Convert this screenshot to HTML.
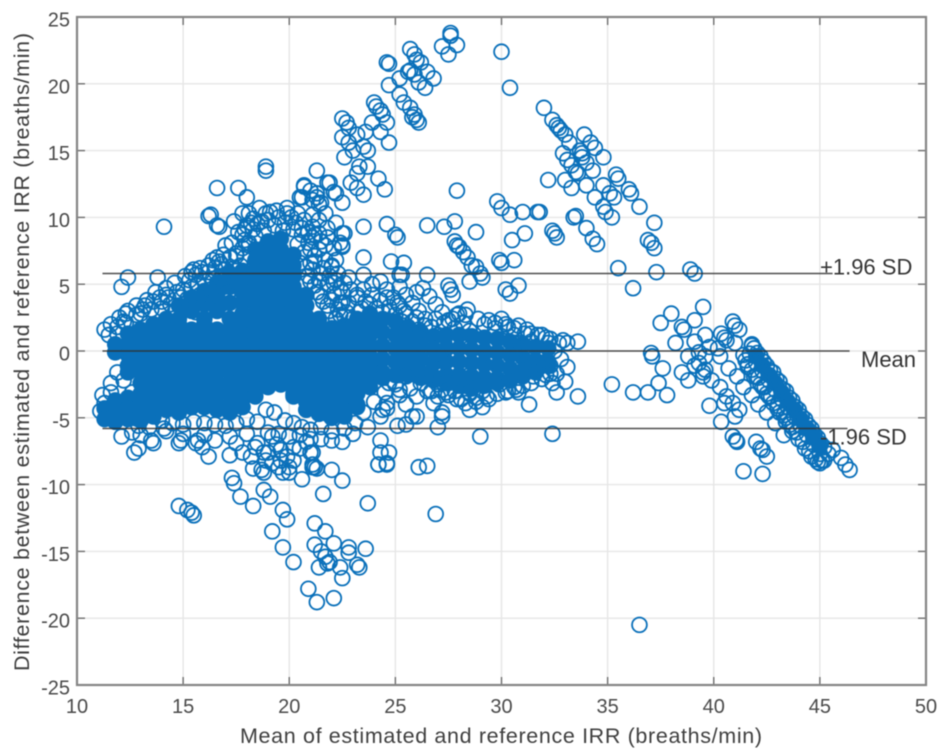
<!DOCTYPE html>
<html lang="en">
<head>
<meta charset="utf-8">
<title>Bland-Altman plot of estimated and reference IRR</title>
<style>
html,body{margin:0;padding:0;background:#fff;width:945px;height:756px;overflow:hidden}
svg{display:block;filter:blur(0.6px);font-family:"Liberation Sans",Arial,sans-serif}
</style>
</head>
<body>
<svg id="chart" xmlns="http://www.w3.org/2000/svg" width="945" height="756" viewBox="0 0 945 756">
<rect x="0" y="0" width="945" height="756" fill="#ffffff"/>
<g id="grid"></g>
<g id="marks"></g>
<g id="axes"></g>
<g id="refs"></g>
<text x="240" y="743" font-size="21.5" fill="#3f3f3f" textLength="522" lengthAdjust="spacing">Mean of estimated and reference IRR (breaths/min)</text>
<text transform="translate(29,671) rotate(-90)" font-size="21.5" fill="#3f3f3f" textLength="638" lengthAdjust="spacing">Difference between estimated and reference IRR (breaths/min)</text>
</svg>
<script>
const xTicks = [10,15,20,25,30,35,40,45,50];
const yTicks = [25,20,15,10,5,0,-5,-10,-15,-20,-25];
const refLabels = ["+1.96 SD","Mean","-1.96 SD"];
const refValues = [5.8,0,-5.8];
const refStartMean = 11.2;
const refEndMeans = [45.6,46.4,46.3];

/* Over-plotted core, one [mean,[differences]] per column */
const coreColumns = [
[11.3,[-4.3,-5.1]],
[11.8,[0.5,-0.1,-3.7,-4.5,-5.3]],
[12.4,[1.3,0.5,-0.3,-1.1,-1.6,-3.5,-4.3,-5.1]],
[13,[1.6,0.8,0,-0.8,-1.6,-2.4,-3.2,-4,-4.8,-5.2]],
[13.6,[2,1.2,0.4,-0.4,-1.2,-2,-2.8,-3.6,-4.4,-4.9]],
[14.2,[2.4,1.6,0.8,0,-0.8,-1.6,-2.4,-3.2,-4,-4.4]],
[14.8,[3.4,2.4,2,1.2,0.4,-0.4,-1.2,-2,-2.8,-3.6,-4.4,-4.6]],
[15.4,[4,3,1.6,0.8,0,-0.8,-1.6,-2.4,-3.2,-4,-4.2]],
[16,[4.5,3.5,2.4,2,1.2,0.4,-0.4,-1.2,-2,-2.8,-3.6,-4.2]],
[16.6,[5.1,4.1,3,1.6,0.8,0,-0.8,-1.6,-2.4,-3.2,-4,-4.4]],
[17.2,[5.8,4.8,3.6,2.4,1.6,0.8,0,-0.8,-1.6,-2.4,-3.2,-4,-4.6]],
[17.8,[6,5.2,4.4,3.6,2.8,2,1.2,0.4,-0.4,-1.2,-2,-2.8,-3.6,-4.2]],
[18.4,[7.6,6.8,6,5.2,4.4,3.6,2.8,2,1.2,0.4,-0.4,-1.2,-2,-2.8,-3.4]],
[19,[8.2,7.4,6.6,5.8,5,4.2,3.4,2.6,1.8,1,0.2,-0.6,-1.4,-2.2,-2.7]],
[19.6,[8.4,7.6,6.8,6,5.2,4.4,3.6,2.8,2,1.2,0.4,-0.4,-1.2,-2,-2.5]],
[20.2,[7.2,6.4,5.6,4.8,4,3.2,2.4,1.6,0.8,0,-0.8,-1.6,-2.4,-3.2,-3.4]],
[20.8,[4.2,3.4,2.6,1.8,1,0.2,-0.6,-1.4,-2.2,-3,-3.8,-4.4]],
[21.4,[2.4,1.6,0.8,0,-0.8,-1.6,-2.4,-3.2,-4,-4.7]],
[22,[1.7,0.9,0.1,-0.7,-1.5,-2.3,-3.1,-3.9,-4.7,-5]],
[22.6,[1.9,1.1,0.3,-0.5,-1.3,-2.1,-2.9,-3.7,-4.5,-4.9]],
[23.2,[2.4,1.6,0.8,0,-0.8,-1.6,-2.4,-3.2,-4,-4.2]],
[23.8,[2.8,2,1.2,0.4,-0.4,-1.2,-2,-2.7]],
[24.4,[2.4,1.4,0.4,-0.6,-1.6,-2]],
[25,[2.2,1.2,0.2,-0.8,-1.8]],
[25.6,[1.8,0.8,-0.2,-1.2,-1.8]],
[26.2,[1.4,0.4,-0.6,-1.6,-2]],
[26.8,[1.1,0.1,-0.9,-1.9,-2.2]],
[27.4,[1.2,0.2,-0.8,-1.8,-2.4]],
[28,[1.2,0.2,-0.8,-1.8,-2.6]],
[28.6,[1.1,0.1,-0.9,-1.9,-2.8]],
[29.2,[1,0,-1,-2,-2.6]],
[29.8,[0.9,-0.1,-1.1,-2.1,-2.4]],
[30.4,[0.7,-0.3,-1.3,-2.2]],
[31,[0.5,-0.5,-1.5,-1.9]],
[31.6,[0.3,-0.7,-1.6]],
[32.2,[0.2,-0.8,-1.1]]
];

const rightBandCore = [
[42,-0.4],[42.3,-1.1],[42.6,-1.8],[42.9,-2.4],[43.2,-3.1],[43.5,-3.8],[43.8,-4.4],[44.1,-5.1],[44.4,-5.8],[44.7,-6.4],[45,-7.1]
];

const rightArm = [
[41.9,0.2],[42.2,-0.4],[42.5,-1.1],[42.8,-1.6],[43.1,-2.3],[43.4,-3],[43.7,-3.7],[44,-4.4],[44.3,-5.1],[44.6,-5.8],[44.9,-6.5],[45.2,-7.2],[45.4,-7.7],
[41.7,-0.2],[42,-0.9],[42.3,-1.5],[42.6,-2.2],[42.9,-2.9],[43.2,-3.6],[43.5,-4.2],[43.8,-4.9],[44.1,-5.6],[44.4,-6.3],[44.7,-7],[45,-7.7],[45.2,-8.2],
[41.5,-0.7],[41.8,-1.4],[42.1,-2],[42.4,-2.7],[42.7,-3.4],[43,-4.1],[43.3,-4.8],[43.6,-5.5],[43.9,-6.1],[44.2,-6.8],[44.5,-7.5],[44.8,-8.1],[45,-8.4],
[41.8,0.5],[42.05,-0.15],[42.35,-0.8],[42.65,-1.45],[42.95,-2.1],[43.25,-2.85],[43.55,-3.5],[43.85,-4.2],[44.15,-4.9],[44.45,-5.55],[44.75,-6.25],[45.05,-6.95],
[41.6,-1.2],[41.9,-1.9],[42.2,-2.5],[42.5,-3.2],[42.8,-3.9],[43.1,-4.6],[43.4,-5.3],[43.7,-6],[44,-6.6],[44.3,-7.3],[44.6,-7.9],[44.9,-8.3],
[37.3,5.9],[38.9,6.1],[39.1,5.8],[36.2,4.7],[37.2,7.7],[37.06,8.1],[38,2.8],[37.5,2.1],[39.5,3.3],[39.1,2.3],[38.5,1.8],[38.6,1.6],[39.6,1.2],[38.2,0.6],[39.1,0.7],[39.3,-0.1],[38.8,-0.4],[38.5,-1.6],[38.8,-2.2],[39.1,-1.1],[39.5,-1.9],
[40.9,2.2],[41,1.9],[41.2,1.6],[40.5,1],[40.6,0.8],[40.35,1.3],[41.8,0.4],[40.2,0.2],[37.05,-0.15],[37.1,-0.4],[37.6,-1.3],[37.4,-2.4],[37.8,-3.3],[36.9,-3.1],[36.2,-3.1],
[39.8,-4.1],[40.5,-3.9],[41,-4.9],[40.35,-5.3],[41.05,-6.7],[40.9,-6.4],[41.1,-6.8],[42,-6.8],[42.3,-7.4],[42.2,-7.3],[42.5,-7.9],[41.4,-9],[42.3,-9.2],[43.3,-6.3],[45.6,-7.4],[46,-8],[46.2,-8.5],[46.4,-8.9],[45.1,-8.2],
[39.6,-1.4],[39.9,-2.2],[40.3,-2.7],[40.6,-3.4],[40.9,-3.9],[41.2,-4.4],[40.3,-0.4],[40.7,-1.3],[41.1,-1.9],[41.4,-2.7],[41.8,-3.3],[42.1,-4],[42.5,-4.6],[42.9,-5.4],
[41,0.6],[41.4,-0.3],[41.6,-1],[42,-1.9],[42.3,-2.7],[42.6,-3.4],[43,-4.3],[43.4,-5],[43.7,-5.7],[39.3,-0.9],[39.5,-1.6],[39.8,0.3],[39.6,-0.4],
[36.5,-20.5],[35.2,-2.5]
];

const upperRightCluster = [
[30,22.4],[30.4,19.7],[32,18.2],[32.4,17.3],[32.6,16.9],[32.7,16.7],[32.8,16.5],[33,16.2],[33.2,15.6],[33.9,16.2],[34.2,15.6],[34.4,15.2],[34.8,14.5],[32.9,14.8],[33.7,15],[33.8,14.8],[33.8,14.5],[33.1,14.3],[33.3,13.9],[33.5,13.4],[33.6,13.3],[34,14.1],[34.3,13.5],[33,12.8],[33.3,12.2],[32.2,12.8],[34,12.4],[34.4,11.5],[34.8,12.4],[35.4,13.2],[35.5,12.9],[36,12.1],[36.1,11.8],[35.3,11.5],[35.1,11.8],[34.8,10.8],[34.9,10.4],[35.2,10],[36.5,10.8],[37.2,9.6],[36.9,8.3],[31.8,10.4],[33.4,10],[33.5,10.1],[32.4,9],[32.5,8.8],[32.6,8.5],[34,9.2],[34.3,8.4],[34.5,8],[35.5,6.2],
[27.9,12],[29.8,11.2],[30,10.7],[30.4,10.2],[31,10.4],[31.7,10.4],[30.5,8.3],[31.1,8.8],[29.9,6.8],[30.6,6.8],[30,6.6]
];

const upperLeftCluster = [
[27.6,23.8],[27.6,23.6],[27.9,22.9],[27.2,22.8],[27.5,22.2],[25.7,22.6],[25.9,22.2],[26,21.8],[26.2,21.6],[25.7,21],[25.6,20.9],[26.5,20.9],[26.8,20.4],[25.9,20.7],[26.1,20.1],[26.4,19.7],[24.6,21.6],[24.7,21.5],[25.2,20.4],[24.7,19.9],[25.2,19.2],[25.4,18.6],[25.7,18.2],[25.9,17.7],[26.1,17.1],[25.8,17.5],[26,17.3],
[24.1,18.3],[24.3,18],[24.4,17.7],[24,18.6],[24.6,17.1],[24.3,16.4],[24.7,15.6],[23.9,17.1],[22.5,17.4],[22.7,17.1],[22.8,16.7],[23.2,16.2],[22.5,16],[22.8,15.6],[23.6,16.4],[23.5,15.3],[23.7,15],[22.6,14.5],[23,15],
[23.3,13.8],[23.2,13.3],[23.7,13.8],[22.9,12.6],[23.2,12.2],[23.5,11.7],[24.2,12.9],[24.5,12.1],[21.3,13.5],[21.9,12.6],[22.2,11.8],[22.5,11.1],[20.7,12.4],[21,12],[21.3,11.5],[21.4,11],
[23.5,9.3],[24.6,9.5],[25,8.7],[25.1,8.5],[26.5,9.4],[27.3,9.3],[27.8,9.7],[28.8,8.9],[27.8,8.2],[28,7.8],[28.4,7],[28.6,6.4],[29,5.8],[27.9,7.9],[28.2,7.4],[23.5,7],[24.8,6.7],[25.4,6.6],[23.5,5.7],[26.5,5.7],[25.2,5.7],[22.2,9.6],[22.5,8.8],[22.4,8.1],[22.5,7.8],[22,6.4],[21.4,9.8]
];

const lowerCluster = [
[26.9,-12.2],[23.7,-11.4],[21.6,-10.7],[26.1,-8.7],[26.5,-8.6],[24.2,-8.5],[24.6,-8.5],[20.6,-9.6],[22,-8.9],[22.5,-9.7],[21.1,-8.5],[21.3,-8.8],[17.3,-9.5],[17.4,-9.9],[17.7,-10.9],[18.3,-11.6],[18.8,-10.4],[19.1,-10.9],[19.7,-11.9],[19.9,-12.6],[19.2,-13.5],[19.7,-14.7],[20.2,-15.8],
[21.2,-12.9],[21.7,-13.5],[22.1,-14.4],[21.2,-14.5],[21.5,-15],[21.7,-15.4],[21.9,-15.8],[21.8,-15.9],[21.4,-16.2],[22.4,-16.2],[22.5,-17],[22.8,-14.7],[22.8,-15.1],[23.6,-14.8],[23.2,-16],[23.3,-16.2],[20.9,-17.8],[21.3,-18.8],[22.1,-18.5],
[14.8,-11.6],[15.2,-11.9],[15.5,-12.3],[15.4,-12.1],[12.1,-6.4],[12.7,-7.6],[12.9,-7.3],[13.6,-6.9],[13.5,-6.7],[14.8,-6.9],[14.9,-6.7],[15.6,-6.9],[15.9,-7.2],[16.2,-7.9],[15.7,-6.7],[16.5,-6.7],[17.2,-7.8],[17.8,-7.6],[18.2,-7.9],[18.3,-8.8],[18.7,-8.9],[18.8,-9.1],[18.8,-7.6],[19.2,-8.4],[19.7,-9.1],[19.4,-7],[19.6,-7.4],[19.9,-7.9],[19.2,-6.4],[20.2,-7.2],[20.5,-7.3],[21,-7.6],[21.1,-8.7],[14.1,-5.8],[11.2,-3.3],[11.6,-2.4],[11.9,-1.6],[12.2,-2.2],[12.6,-3.1],
[18.4,-7.2],[19,-7.6],[19.6,-8.2],[18.9,-8.2],[20.2,-8.2],[20,-8.7],[19.5,-8.7],[20,-9.1],[11.1,-4.5],[11.3,-3.9],[11.6,-3.1]
];

const upperFringe = [
[14.1,9.3],[16.6,12.2],[17.6,12.2],[18,11.5],[16.3,10.2],[16.2,10.1],[16.7,9.3],[16.6,9.4],[17.4,9.7],[18.9,13.5],[18.9,13.8],[17.8,10.3],[18.1,10.3],[18.6,10.7],[19.1,10.4],[18,9.4],[18.3,9.1],[17.8,8.7],[18.7,9.7],[19.9,10.7],[20.7,12.3],[20.5,11.5],[21.1,11.3],[21.3,11.8],[21.1,10.2],
[12.4,5.5],[12.1,4.8],[13.8,5.5],[15.5,6.1],[15.4,5.9],[15.6,5.7],[16.6,7],[16.9,7.2],[16.4,6.8],[16.7,6.7],[16.2,5.9],[17.8,7.7],[17.5,7.3],[17.2,7],[14.9,4],[13.9,4],[14.3,4],[14,3.7],[13.1,3.1],[12.3,2.8],[12.8,2.7],[12.3,2.1],[12.2,2.2],[11.3,1.6],[11.5,1.2],[11.9,1.8],
[13,2.8],[13.5,3.1],[14,3.2],[14.4,3.5],[14.9,3.3],[15.2,3.9],[15.5,3.4],[15.8,4.2],[16.1,3.7],[16.3,4.6],[16.6,4],[16.9,4.8],[17.1,4.3],[15,4.6],[15.4,4.8],[15.7,5],[16,5.2],[16.4,5.4],[16.8,5.5],[17.2,5.6],[17.5,5],[17.7,6.4],[17.4,6.2],[17,6.1],[16.5,6.2],[15.9,5.9],[15.3,5.3],[14.7,4.4],[14.2,4.2],[13.6,3.7],[13.2,3.4],[15.6,2.9],[16.2,3.1],[16.8,3.5],[14.6,2.9],[17.5,7.1],[17.9,7],[18.1,8.1],[18.4,8.6],[18.8,9],[19.3,9.4],[19.8,9.6],[20.2,9.1],[20.6,8.7],[20.9,8.1],[20.7,7.4],[21.2,7.1],[18.1,7.9],[17.9,8.3],[19,9.8],[19.5,10],[20.1,10],[18.5,9.5],[19.7,9],[20.4,8],
[21.8,12.6],[22.1,11.9],[20.6,11.5],[21.5,11.1],[21.7,10.3],[20.4,10.3],[20.7,9.8],[21.1,9.3],[21.4,8.8],[21.8,9.2],[22.6,8.8],[22.5,7.9],[22.1,7.7],[21.8,8.5],[21.1,8.5],[21.4,7.6],[21.7,6.8],[22,6.3],[22.3,5.8],[23.2,4.2],[22.1,5.1],[22.5,4.4],[21,7.6],[21,6.6],[21.1,6.1],[21.4,5.3],
[21,5.2],[21.3,4.4],[21.6,3.7],[21.9,3],[22.2,2.4],[21.5,5.8],[21.8,5],[22.1,4.3],[22.4,3.6],[22.7,2.9],[23,2.4],[22.8,3.6],[23.4,3.2],[23.8,3.5],[24.1,3.2],[24.4,2.9],[23.5,4.6],[23.9,4.2],[24.3,3.8],[24.7,3.3],[25,2.7],[25.3,2.2],[25.6,1.7],[25.9,1.2],
[22.4,4.7],[22.5,3.6],[23.2,4],[22.4,2.7]
];

const peakFringe = [
[18.3,9.9],[18.9,10.3],[19.4,10.5],[19.9,10.3],[20.3,9.6],[20.6,9.2],[20.9,8.9],[21.2,8.7],[21.5,8.2],[21.7,7.9],[21.2,6.7],[21.6,6.2],[21.9,5.6],[22.2,5.3],[22.6,5.1],[20.9,5.6],[21.2,4.9],[21.5,4.1],[21.8,3.4],[22,3.8],[22.3,3.1],[22.6,2.6],[23.3,2.9],[23.6,3.7],[20.5,6.6],[20.8,5.1],[20.8,6.3],[17.3,8.1],[17.6,8.9],[18.2,9.6],[17.9,9.1],[17,7.9],[16.8,6.5],[16.2,6.4],[15.8,6.2],[15.1,5.6],[14.6,5.1],[14.2,4.7],[13.7,4.4],[13.3,3.8],[12.8,3.4],[12.4,3],[12,2.5],[11.6,2],[11.9,1.3],[22.9,4.6],[22.2,6.8],[22.8,5.5],[23.9,5],[24.6,4],[25.1,3.6],[25.4,3],[26,2.5],[26.4,1.9],[26.9,2.4],[27.3,2.1],[27.7,2.4],[28.3,2.7],[28.9,2.4],[29.2,2],[29.7,2.1],[30.2,2],[30.6,1.7],[31.4,1.3],[31.7,1.2],[32.3,0.9],[32.7,0.6]
];

const lowerTailFringe = [
[24.7,-2.4],[25.2,-2.9],[27.5,-3.3],[27.9,-3.6],[28.3,-3.9],[28.8,-3.5],[29.3,-3.4],[29.8,-3.2],[30.3,-3],[30.7,-2.9],[31,-2.6],[31.4,-2.4],[31.9,-2.1],[32.3,-1.7],[26.7,-3],[27.2,-2.9]
];

const lowerFringe = [
[12.9,-5.6],[13.4,-5.7],[14,-5.2],[14.5,-5.4],[15,-5.5],[15.5,-5.3],[16,-5.4],[16.5,-5.5],[17,-5.6],[17.5,-5.4],[18,-5.1],[18.5,-5.3],[18.9,-4.4],[19.3,-4.6],[19.8,-5.2],[20.2,-5.4],[20.6,-5.7],[21,-5.9],[21.5,-5.7],[22,-6],[22.6,-5.8],[23.1,-5.4],[23.5,-4.6],[24,-3.8],[24.5,-3.1],[25,-2.5],[25.5,-1.9],[26,-1.4],[26.5,-1.9],[27,-2.5],[25.2,-3.3],[25.7,-2.8],[26.2,-2.4],[25.5,-4],[26,-3.4],[26.5,-3],[27,-3.4],[17.2,-6.4],[18,-6.2],[18.5,-6.9],[19,-6.1],[19.5,-6.2],[20,-6.4],[20.5,-6.3],[21.5,-6.6],[22,-6.7],[23,-6.2],[17.5,-6.9],[16,-6.3],[15,-6.2],[14.2,-6],[13,-6.3],[12.6,-6.1],[21,-6.6],
[23.7,-5.7],[24.3,-6.7],[22.5,-6.8],[25.1,-5.6],[25.5,-5.5],[25.8,-4.9],[26,-4.9],[24.6,-3.9],[24.3,-4.9],[24.6,-4.3],[24.4,-4.4],[24.3,-7.6],[24.7,-7.6],[24.6,-8.4],[24.2,-8.5],[20.8,-6.8],[21.1,-7.6],[21.2,-8.7],[27.2,-4.6],[27.2,-4.9],[26.8,-3.9],[28.5,-3.1]
];

const tailStreaks = [
[30.8,4.9],[30.4,4.3],[30.2,4.6],[28.5,5.2],[29.1,5.5],[28.8,6.3],[27.5,4.9],[27.6,4.6],[27.7,4.2],[26,4.4],[26.3,4.7],[25.3,5.7],[24.3,5.2],[25.2,4.8],
[33.6,0.7],[32.9,0.8],[33.1,0.6],[31.9,1.2],[32.1,1],[30.8,1.9],[31.2,1.6],[30,2.4],[29.4,2.3],[28.4,3.1],[28,2.8],[27.9,2.7],
[24.6,4.6],[24.9,4],[25.2,3.4],[25.5,2.8],[25.8,2.2],[26.1,1.6],[26.4,1],[26.7,0.4],[27,-0.2],[27.3,-0.8],[27.6,-1.4],[27.9,-2],[28.2,-2.6],[28.5,-3.2],[28.8,-3.8],
[25.5,4.2],[25.8,3.6],[26.1,3],[26.4,2.4],[26.7,1.8],[27,1.2],[27.3,0.6],[27.6,0],[27.9,-0.6],[28.2,-1.2],[28.5,-1.8],[28.8,-2.4],[29.1,-3],[29.4,-3.6],
[26.6,4.1],[26.9,3.5],[27.2,2.9],[27.5,2.3],[27.8,1.7],[28.1,1.1],[28.4,0.5],[28.7,-0.1],[29,-0.7],[29.3,-1.3],[29.6,-1.9],[29.9,-2.5],[30.2,-3.1],
[28.2,2.1],[28.5,1.5],[28.8,0.9],[29.1,0.3],[29.4,-0.3],[29.7,-0.9],[30,-1.5],[30.3,-2.1],[30.6,-2.7],
[29.7,1.7],[30,1.1],[30.3,0.5],[30.6,-0.1],[30.9,-0.7],[31.2,-1.3],[31.5,-1.9],
[31.1,1.3],[31.4,0.7],[31.7,0.1],[32,-0.5],[32.3,-1.1],[32.6,-1.7],
[32.2,0.6],[32.5,0],[32.8,-0.6],[33.1,-1.2],
[30.3,1.8],[30.6,1.2],[30.9,0.6],[31.2,0],[31.5,-0.6],[31.8,-1.2],[32.1,-1.8],[32.4,-2.4],
[26.9,-1.2],[27.2,-1.8],[27.5,-2.4],[27.8,-3],[28.1,-3.6],[27.4,-3.1],[27,-5.7],[28.5,-4.4],[29.1,-4.2],[29,-6.4],[32.4,-6.2],[30.8,-3.1],[31.3,-4],[32.6,-3.1],[33.6,-3.4],[33,-2.3]
];

const ringGroups = [rightArm, upperRightCluster, upperLeftCluster, lowerCluster, upperFringe, peakFringe, lowerFringe, lowerTailFringe, tailStreaks];

const NS = 'http://www.w3.org/2000/svg';
const xMin = 10, xMax = 50, yMin = -25, yMax = 25;
const plotLeft = 77, plotRight = 926, plotTop = 17, plotBottom = 685;
function xScale(v){ return plotLeft + (v - xMin) * (plotRight - plotLeft) / (xMax - xMin); }
function yScale(v){ return plotBottom - (v - yMin) * (plotBottom - plotTop) / (yMax - yMin); }
function make(tag, attrs, parent){
  const el = document.createElementNS(NS, tag);
  for (const k in attrs) el.setAttribute(k, attrs[k]);
  parent.appendChild(el);
  return el;
}
const gridG = document.getElementById('grid');
const marksG = document.getElementById('marks');
const axesG = document.getElementById('axes');
const refsG = document.getElementById('refs');

xTicks.forEach(function(t){
  const px = xScale(t);
  if (t !== xMin && t !== xMax) {
    const g = make('line',{x1:px,x2:px,y1:plotTop,y2:plotBottom,stroke:'#e6e6e6','stroke-width':1.4},gridG);
    
    
    const a = make('line',{x1:px,x2:px,y1:plotBottom,y2:plotBottom-8,stroke:'#6e6e6e','stroke-width':1.4},axesG);
    
    
    const b = make('line',{x1:px,x2:px,y1:plotTop,y2:plotTop+8,stroke:'#6e6e6e','stroke-width':1.4},axesG);
    
    
  }
  const lab = make('text',{x:px,y:plotBottom+28,'text-anchor':'middle','font-size':20,fill:'#4a4a4a'},axesG);
  
  
  lab.textContent = t;
});
yTicks.forEach(function(t){
  const py = yScale(t);
  if (t !== yMin && t !== yMax) {
    const g = make('line',{x1:plotLeft,x2:plotRight,y1:py,y2:py,stroke:'#e6e6e6','stroke-width':1.4},gridG);
    
    
    const a = make('line',{x1:plotLeft,x2:plotLeft+8,y1:py,y2:py,stroke:'#6e6e6e','stroke-width':1.4},axesG);
    
    
    const b = make('line',{x1:plotRight,x2:plotRight-8,y1:py,y2:py,stroke:'#6e6e6e','stroke-width':1.4},axesG);
    
    
  }
  const lab = make('text',{x:70,y:py+9.5,'text-anchor':'end','font-size':20,fill:'#4a4a4a'},axesG);
  
  
  lab.textContent = t;
});
const frame = make('rect',{x:plotLeft,y:plotTop,width:plotRight-plotLeft,height:plotBottom-plotTop,fill:'none',stroke:'#858585','stroke-width':2.2},axesG);



coreColumns.forEach(function(col){
  col[1].forEach(function(d){
    const c = make('circle',{cx:xScale(col[0]),cy:yScale(d),r:8.3,fill:'#0a70ba',stroke:'none'},marksG);
    
    
  });
});
rightBandCore.forEach(function(p){
  const c = make('circle',{cx:xScale(p[0]),cy:yScale(p[1]),r:8.3,fill:'#0a70ba',stroke:'none'},marksG);
  
  
});
ringGroups.forEach(function(group){
  group.forEach(function(p){
    const c = make('circle',{cx:xScale(p[0]),cy:yScale(p[1]),r:7.4,fill:'none',stroke:'#0a70ba','stroke-width':1.8},marksG);
    
    
  });
});

refValues.forEach(function(v,i){
  const l = make('line',{x1:xScale(refStartMean),x2:xScale(refEndMeans[i]),y1:yScale(v),y2:yScale(v),stroke:'#2f2f2f','stroke-width':1.6,'stroke-opacity':0.85},refsG);
  
  
});
refLabels.forEach(function(s,i){
  const isMean = i === 1;
  const isUpper = i === 0;
  const t = make('text',{x:isMean ? 861 : 820,y:yScale(refValues[i]) + (isUpper ? 1 : 16),'font-size':22,fill:'#333333'},refsG);
  
  
  t.textContent = s;
});
</script>
</body>
</html>
